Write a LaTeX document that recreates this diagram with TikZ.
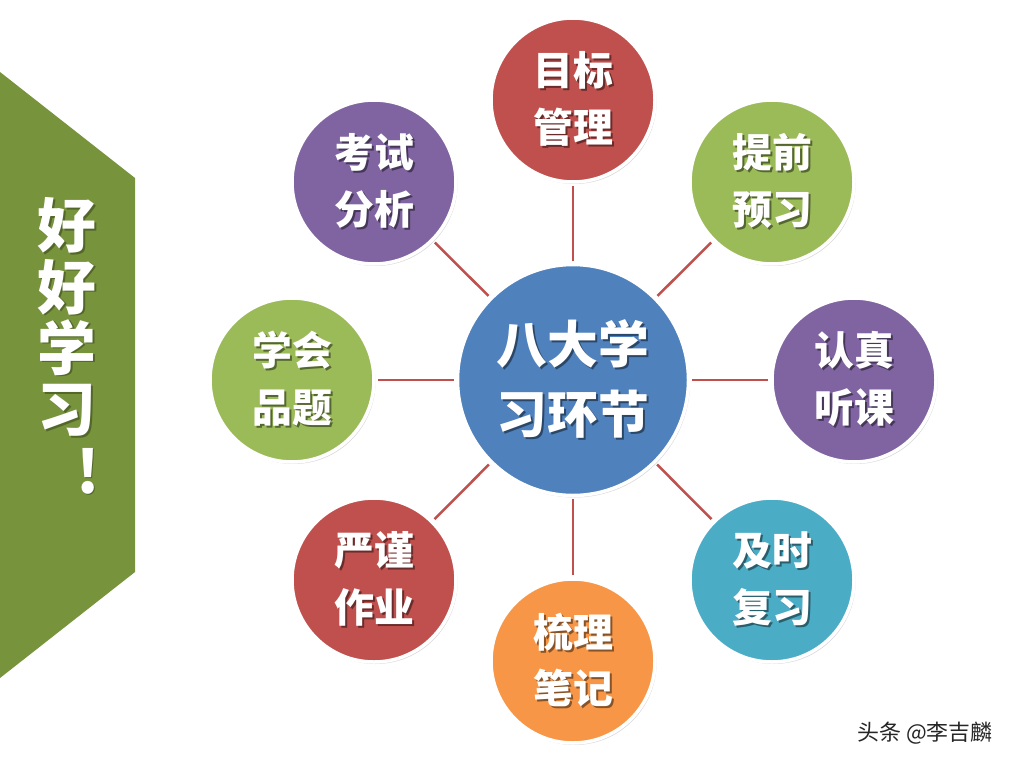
\documentclass[tikz,border=0pt]{standalone}
\usepackage{fontspec}
\newfontfamily\cjk{Noto Sans CJK SC}
\usetikzlibrary{shadows}
\definecolor{cred}{HTML}{C0504D}
\definecolor{cgreen}{HTML}{9BBB59}
\definecolor{cpurple}{HTML}{8064A2}
\definecolor{cblue}{HTML}{4F81BD}
\definecolor{caqua}{HTML}{4BACC6}
\definecolor{corange}{HTML}{F79646}
\definecolor{banner}{HTML}{77933C}
\definecolor{linkred}{HTML}{C0504D}
\colorlet{shcol}{black}
\newcommand\shd[2][2bp]{\leavevmode\rlap{\kern#1\raisebox{-#1}{\textcolor{shcol}{#2}}}#2}
\tikzset{
  bub/.style={circle, draw=white, line width=3.5bp, minimum size=164bp, inner sep=0pt,
    drop shadow={opacity=0.3, shadow xshift=1.5bp, shadow yshift=-2bp}},
  hub/.style={bub, minimum size=231bp},
  link/.style={draw=linkred, line width=2.5bp, shorten <=2bp, shorten >=2bp},
  txt/.style={text=white, font=\cjk\bfseries\fontsize{40}{57}\selectfont, align=center, inner sep=0pt},
  hubtxt/.style={txt, font=\cjk\bfseries\fontsize{51}{70}\selectfont},
  bantxt/.style={text=white, font=\cjk\bfseries\fontsize{59}{61.5}\selectfont, align=center, inner sep=0pt},
  wmark/.style={font=\cjk\fontsize{22}{24}\selectfont, text=black!85, inner sep=0pt},
}
\newcommand\bubtext[4]{%
  \colorlet{shcol}{#4!55!black}%
  \node[txt] (#1-t) at (#1) {\shd{#2}\\\shd{#3}};}
\begin{document}
\begin{tikzpicture}[x=1bp,y=-1bp]
\useasboundingbox (0,0) rectangle (1026,767);
\fill[white] (0,0) rectangle (1026,767);
% banner
\fill[banner] (0,72) -- (135,178) -- (135,572) -- (0,678) -- cycle;
\colorlet{shcol}{banner!70!black}
\node[bantxt] (bt) at (67,318) {\shd[1.5bp]{好}\\\shd[1.5bp]{好}\\\shd[1.5bp]{学}\\\shd[1.5bp]{习}};
\node[bantxt] (bex) at (88,472) {\shd[1.5bp]{!}};
% nodes
\node[hub, fill=cblue] (hub) at (573,380) {};
\node[bub, fill=cred] (b1) at (573,100) {};
\node[bub, fill=cgreen] (b2) at (772,182) {};
\node[bub, fill=cpurple] (b3) at (854,380) {};
\node[bub, fill=caqua] (b4) at (772,580) {};
\node[bub, fill=corange] (b5) at (573,661) {};
\node[bub, fill=cred] (b6) at (374,580) {};
\node[bub, fill=cgreen] (b7) at (292,380) {};
\node[bub, fill=cpurple] (b8) at (374,182) {};
\foreach \b in {b1,b2,b3,b4,b5,b6,b7,b8} \draw[link] (hub) -- (\b);
\colorlet{shcol}{cblue!55!black}
\node[hubtxt] (hub-t) at (hub) {\shd{八大学}\\\shd{习环节}};
\bubtext{b1}{目标}{管理}{cred}
\bubtext{b2}{提前}{预习}{cgreen}
\bubtext{b3}{认真}{听课}{cpurple}
\bubtext{b4}{及时}{复习}{caqua}
\bubtext{b5}{梳理}{笔记}{corange}
\bubtext{b6}{严谨}{作业}{cred}
\bubtext{b7}{学会}{品题}{cgreen}
\bubtext{b8}{考试}{分析}{cpurple}
\node[wmark] (wm) at (925,733) {头条 @李吉麟};
\end{tikzpicture}
\end{document}
